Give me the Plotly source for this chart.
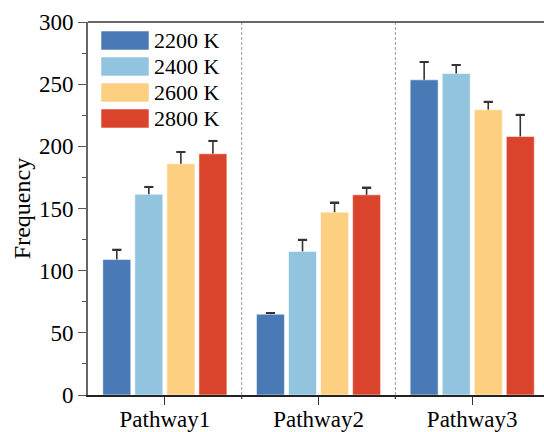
import plotly.graph_objects as go

# Reaction pathway counts at each temperature (mean values and upper error)
pathways = ["Pathway1", "Pathway2", "Pathway3"]
temperatures = ["2200 K", "2400 K", "2600 K", "2800 K"]
freq_2200 = [109, 65, 253.5]
freq_2400 = [161.5, 115.5, 258.5]
freq_2600 = [186, 147, 229.5]
freq_2800 = [194, 161, 208]
err_2200 = [8, 1, 14.5]
err_2400 = [6, 9.5, 7]
err_2600 = [9.5, 8, 6.5]
err_2800 = [10.5, 6, 17.5]

series = [freq_2200, freq_2400, freq_2600, freq_2800]
errors = [err_2200, err_2400, err_2600, err_2800]
colors = ["#4a7ab5", "#92c4df", "#fdcf80", "#da432c"]

FONT = "Liberation Serif"
BAR_W = 0.182      # bar width in category units
SLOT = 0.2085      # distance between neighbouring bars in a group
CAP_W = 0.06       # error-bar cap width in category units
CAP_T = 1.3        # cap thickness in data units
ERR_COLOR = "#333333"

fig = go.Figure()
n = len(series)
for i, (name, vals, errs, col) in enumerate(zip(temperatures, series, errors, colors)):
    off = -(SLOT * (n - 1) + BAR_W) / 2 + i * SLOT
    # bar with an upward whisker only
    fig.add_trace(go.Bar(
        x=pathways, y=vals, name=name, width=BAR_W, offset=off,
        marker=dict(color=col, line=dict(color="rgba(255,255,255,0.55)", width=1)),
        error_y=dict(type="data", array=errs, arrayminus=[0] * len(errs),
                     symmetric=False, color=ERR_COLOR, thickness=1.6, width=0),
        showlegend=False,
    ))
    # cap on top of each whisker
    fig.add_trace(go.Bar(
        x=pathways, y=[CAP_T] * len(vals),
        base=[v + e - CAP_T / 2 for v, e in zip(vals, errs)],
        width=CAP_W, offset=off + BAR_W / 2 - CAP_W / 2,
        marker=dict(color=ERR_COLOR, line=dict(width=0)),
        showlegend=False, hoverinfo="skip",
    ))

# Dashed separators between pathway groups, with short boundary ticks
shapes = []
for xb in [0.5, 1.5]:
    shapes.append(dict(type="line", xref="x", yref="paper", x0=xb, x1=xb, y0=0, y1=1,
                       line=dict(color="#999999", width=1, dash="3px,2px"), layer="below"))
    shapes.append(dict(type="line", xref="x", yref="paper", x0=xb, x1=xb, y0=0, y1=-0.011,
                       line=dict(color="#333333", width=1.2)))
# top frame line
shapes.append(dict(type="line", xref="paper", yref="paper", x0=0, x1=1, y0=1, y1=1,
                   line=dict(color="#666666", width=2)))

# Legend: wide colour swatches with labels
annotations = []
y_top = 31
step = 26
for i, (name, col) in enumerate(zip(temperatures, colors)):
    y0 = y_top + i * step
    shapes.append(dict(type="rect", xref="paper", yref="paper",
                       x0=(101 - 88) / 456, x1=(149 - 88) / 456,
                       y0=1 - (y0 + 19 - 22) / 373, y1=1 - (y0 - 22) / 373,
                       fillcolor=col, line=dict(color="rgba(255,255,255,0.55)", width=1)))
    annotations.append(dict(xref="paper", yref="paper", x=(152 - 88) / 456,
                            y=1 - (y0 + 9.5 - 22) / 373, xanchor="left", yanchor="middle",
                            text=name, showarrow=False,
                            font=dict(family=FONT, size=22, color="black")))

fig.update_layout(
    width=544, height=432,
    margin=dict(l=88, r=0, t=22, b=37),
    paper_bgcolor="white", plot_bgcolor="white",
    barmode="overlay",
    font=dict(family=FONT, size=22, color="black"),
    shapes=shapes, annotations=annotations,
)
fig.update_xaxes(
    range=[-0.5, 2.467], showline=True, linecolor="#222222", linewidth=1.5,
    ticks="outside", ticklen=8, tickwidth=1.2, tickcolor="#333333",
    showgrid=False, automargin=False, ticklabelstandoff=-5,
    tickfont=dict(family=FONT, size=23, color="black"),
)
fig.update_yaxes(
    range=[0, 300], dtick=50, showline=True, linecolor="#666666", linewidth=2,
    ticks="outside", ticklen=8, tickwidth=1.2, tickcolor="#555555",
    minor=dict(dtick=25, ticks="outside", ticklen=4, tickcolor="#555555"),
    showgrid=False, zeroline=False, automargin=False,
    tickfont=dict(family=FONT, size=23, color="black"),
    title=dict(text="Frequency", font=dict(family=FONT, size=24, color="black"), standoff=2),
)

fig.write_html("out.html")
